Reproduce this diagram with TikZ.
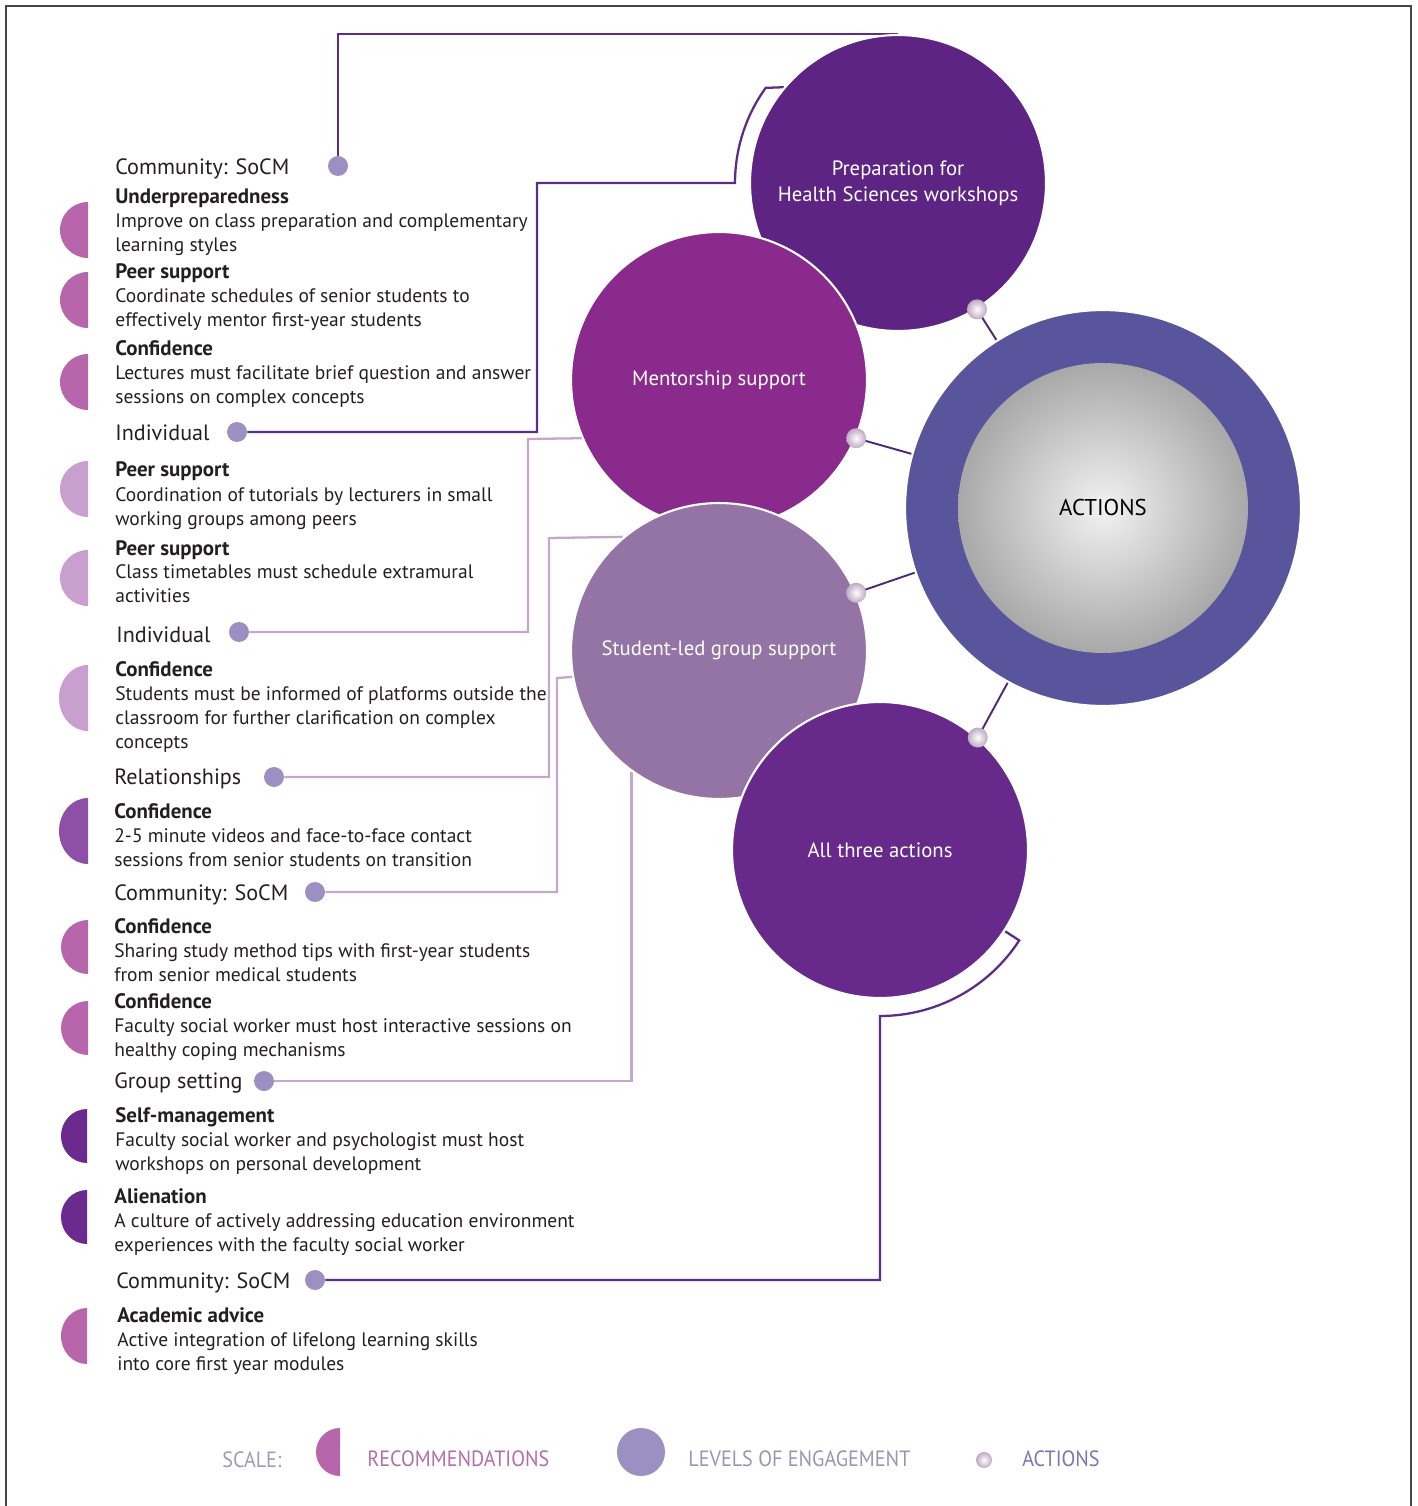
\documentclass[tikz,border=0pt]{standalone}
\usepackage{fontspec}
\usepackage{graphicx}
\setmainfont{PT Sans}
\usetikzlibrary{backgrounds}
\definecolor{cprep}{RGB}{94,36,131}
\definecolor{cment}{RGB}{138,42,140}
\definecolor{cstud}{RGB}{148,116,165}
\definecolor{call}{RGB}{103,42,138}
\definecolor{cring}{RGB}{88,85,156}
\definecolor{cdark}{RGB}{92,45,134}
\definecolor{clight}{RGB}{199,165,205}
\definecolor{clvl}{RGB}{155,144,194}
\definecolor{cpearl}{RGB}{190,170,196}
\definecolor{cactl}{RGB}{78,43,112}
\definecolor{cpink}{RGB}{184,102,172}
\definecolor{cpale}{RGB}{201,159,207}
\definecolor{cmid}{RGB}{141,80,166}
\definecolor{cdeep}{RGB}{106,42,142}
\definecolor{txtc}{RGB}{35,31,32}
\definecolor{cframe}{RGB}{70,70,70}
\definecolor{cscale}{RGB}{160,154,184}
\definecolor{creco}{RGB}{178,111,171}
\definecolor{clev}{RGB}{154,149,181}
\definecolor{cact}{RGB}{126,118,174}
\begin{document}
\begin{tikzpicture}[x=0.02cm,y=0.02cm,
  body/.style={anchor=base west, inner sep=0pt, text=txtc, font=\fontsize{11.1}{13}\selectfont},
  head/.style={body, font=\fontsize{11.9}{13}\selectfont\bfseries},
  lvl/.style={body, font=\fontsize{12.6}{14}\selectfont},
  big/.style={circle, draw=white, line width=1.2pt, minimum size=5.92cm, inner sep=0pt, text=white, align=center, font=\fontsize{11.8}{15}\selectfont},
  lvdot/.style={circle, fill=clvl, minimum size=0.4cm, inner sep=0pt},
  pearl/.style={circle, inner color=white, outer color=cpearl, minimum size=0.4cm, inner sep=0pt},
  dark/.style={draw=cdark, line width=1.3pt},
  light/.style={draw=clight, line width=1.3pt},
  actl/.style={draw=cactl, line width=1.1pt},
  leg/.style={anchor=base west, inner sep=0pt, font=\fontsize{12.6}{14}\selectfont},
]
\useasboundingbox (0,0) rectangle (1417,-1506);
\draw[cframe, line width=0.8pt] (6,-1506) -- (6,-6) -- (1411,-6) -- (1411,-1506);

% big circles
\node[big, fill=cprep] (prep) at (898,-183) {Preparation for\\Health Sciences workshops};
\node[big, fill=cment] (ment) at (719,-380) {\raisebox{-2pt}{Mentorship support}};
\node[big, fill=cstud] (stud) at (719,-651) {\raisebox{3pt}{Student-led group support}};
\node[big, fill=call] (all) at (880,-850) {\raisebox{-2pt}{All three actions}};
\node[circle, fill=cring, draw=white, line width=1.2pt, minimum size=7.92cm, inner sep=0pt] (ring) at (1103,-508) {};
\node[circle, inner color=gray!10, outer color=gray!68, minimum size=5.8cm, inner sep=0pt, text=black, font=\fontsize{13}{15}\selectfont] (act) at (1103,-508) {ACTIONS};

% pearls
\node[pearl] (p1) at (prep.-58) {};
\node[pearl] (p2) at (ment.-23.5) {};
\node[pearl] (p3) at (stud.23) {};
\node[pearl] (p4) at (all.49) {};

% level dots
\node[lvdot] (lv1) at (338,-166) {};
\node[lvdot] (lv2) at (237,-432) {};
\node[lvdot] (lv3) at (239,-632) {};
\node[lvdot] (lv4) at (274,-777) {};
\node[lvdot] (lv5) at (315,-892) {};
\node[lvdot] (lv6) at (264,-1081) {};
\node[lvdot] (lv7) at (315,-1280) {};

\begin{pgfonlayer}{background}
\draw[dark] (lv1) |- (prep.north);
\draw[dark] (lv2) -| (537,-183) -- (735,-183) arc[start angle=180, end angle=144.3, radius=163] -- (prep.140);
\draw[light] (lv3) -| (528,-439) -- (ment.203.5);
\draw[light] (lv4) -| (549,-538) -- (stud.130.2);
\draw[light] (lv5) -| (557,-678) -- (stud.190.5);
\draw[light] (lv6) -| (stud.234.5);
\draw[dark] (lv7) -| (880,-1016) arc[start angle=-90, end angle=-33, radius=166] -- (all.-33);
\draw[actl] (p1.center) -- (ring.center);
\draw[actl] (p2.center) -- (ring.center);
\draw[actl] (p3.center) -- (ring.center);
\draw[actl] (p4.center) -- (ring.center);
\end{pgfonlayer}

% recommendation half discs
\fill[cpink] (88,-202) arc[start angle=90, end angle=270, x radius=28, y radius=28] -- cycle;
\fill[cpink] (88,-272) arc[start angle=90, end angle=270, x radius=28, y radius=28] -- cycle;
\fill[cpink] (88,-354) arc[start angle=90, end angle=270, x radius=28, y radius=28] -- cycle;
\fill[cpale] (88,-461) arc[start angle=90, end angle=270, x radius=28, y radius=28] -- cycle;
\fill[cpale] (88,-550) arc[start angle=90, end angle=270, x radius=28, y radius=28] -- cycle;
\fill[cpale] (88,-665) arc[start angle=90, end angle=270, x radius=29, y radius=33] -- cycle;
\fill[cmid] (88,-798) arc[start angle=90, end angle=270, x radius=29, y radius=33] -- cycle;
\fill[cpink] (88,-920) arc[start angle=90, end angle=270, x radius=27, y radius=27] -- cycle;
\fill[cpink] (88,-1001) arc[start angle=90, end angle=270, x radius=27, y radius=27] -- cycle;
\fill[cdeep] (87,-1109) arc[start angle=90, end angle=270, x radius=26, y radius=27] -- cycle;
\fill[cdeep] (87,-1190) arc[start angle=90, end angle=270, x radius=26, y radius=27] -- cycle;
\fill[cpink] (87,-1308) arc[start angle=90, end angle=270, x radius=26, y radius=28] -- cycle;

% texts
\node[lvl] (l1) at (115,-175) {Community: SoCM};
\node[head] (h1) at (115,-204) {Underpreparedness};
\node[body] (b1a) at (115,-228) {Improve on class preparation and complementary};
\node[body] (b1b) at (115,-252) {learning styles};
\node[head] (h2) at (115,-279) {Peer support};
\node[body] (b2a) at (115,-303) {Coordinate schedules of senior students to};
\node[body] (b2b) at (115,-327) {effectively mentor first-year students};
\node[head] (h3) at (115,-356) {Confidence};
\node[body] (b3a) at (115,-380) {Lectures must facilitate brief question and answer};
\node[body] (b3b) at (115,-404) {sessions on complex concepts};
\node[lvl] (l2) at (115,-440) {Individual};
\node[head] (h4) at (115,-477) {Peer support};
\node[body] (b4a) at (115,-501) {Coordination of tutorials by lecturers in small};
\node[body] (b4b) at (115,-525) {working groups among peers};
\node[head] (h5) at (115,-555) {Peer support};
\node[body] (b5a) at (115,-578) {Class timetables must schedule extramural};
\node[body] (b5b) at (115,-602) {activities};
\node[lvl] (l3) at (116,-642) {Individual};
\node[head] (h6) at (115,-676) {Confidence};
\node[body] (b6a) at (115,-700) {Students must be informed of platforms outside the};
\node[body] (b6b) at (115,-724) {classroom for further clarification on complex};
\node[body] (b6c) at (115,-748) {concepts};
\node[lvl] (l4) at (114,-784) {Relationships};
\node[head] (h7) at (114,-818) {Confidence};
\node[body] (b7a) at (114,-842) {2-5 minute videos and face-to-face contact};
\node[body] (b7b) at (114,-866) {sessions from senior students on transition};
\node[lvl] (l5) at (114,-900) {Community: SoCM};
\node[head] (h8) at (114,-933) {Confidence};
\node[body] (b8a) at (114,-957) {Sharing study method tips with first-year students};
\node[body] (b8b) at (114,-981) {from senior medical students};
\node[head] (h9) at (114,-1008) {Confidence};
\node[body] (b9a) at (114,-1032) {Faculty social worker must host interactive sessions on};
\node[body] (b9b) at (114,-1056) {healthy coping mechanisms};
\node[lvl] (l6) at (114,-1088) {Group setting};
\node[head] (h10) at (115,-1122) {Self-management};
\node[body] (b10a) at (115,-1146) {Faculty social worker and psychologist must host};
\node[body] (b10b) at (115,-1170) {workshops on personal development};
\node[head] (h11) at (114,-1203) {Alienation};
\node[body] (b11a) at (114,-1227) {A culture of actively addressing education environment};
\node[body] (b11b) at (114,-1251) {experiences with the faculty social worker};
\node[lvl] (l7) at (116,-1288) {Community: SoCM};
\node[head] (h12) at (117,-1322) {Academic advice};
\node[body] (b12a) at (117,-1346) {Active integration of lifelong learning skills};
\node[body] (b12b) at (117,-1370) {into core first year modules};

% legend
\node[leg, text=cscale] (sc) at (222,-1467) {\scalebox{0.91}[1]{SCALE:}};
\fill[cpink] (340,-1428) arc[start angle=90, end angle=270, x radius=24, y radius=24] -- cycle;
\node[leg, text=creco] (rec) at (367,-1466) {\scalebox{0.91}[1]{RECOMMENDATIONS}};
\node[circle, fill=clvl, minimum size=0.96cm, inner sep=0pt] (legl) at (641,-1452) {};
\node[leg, text=clev] (lev) at (688,-1466) {\scalebox{0.91}[1]{LEVELS OF ENGAGEMENT}};
\node[pearl, minimum size=0.32cm] (legp) at (984,-1460) {};
\node[leg, text=cact] (lac) at (1022,-1466) {\scalebox{0.91}[1]{ACTIONS}};
\end{tikzpicture}
\end{document}
